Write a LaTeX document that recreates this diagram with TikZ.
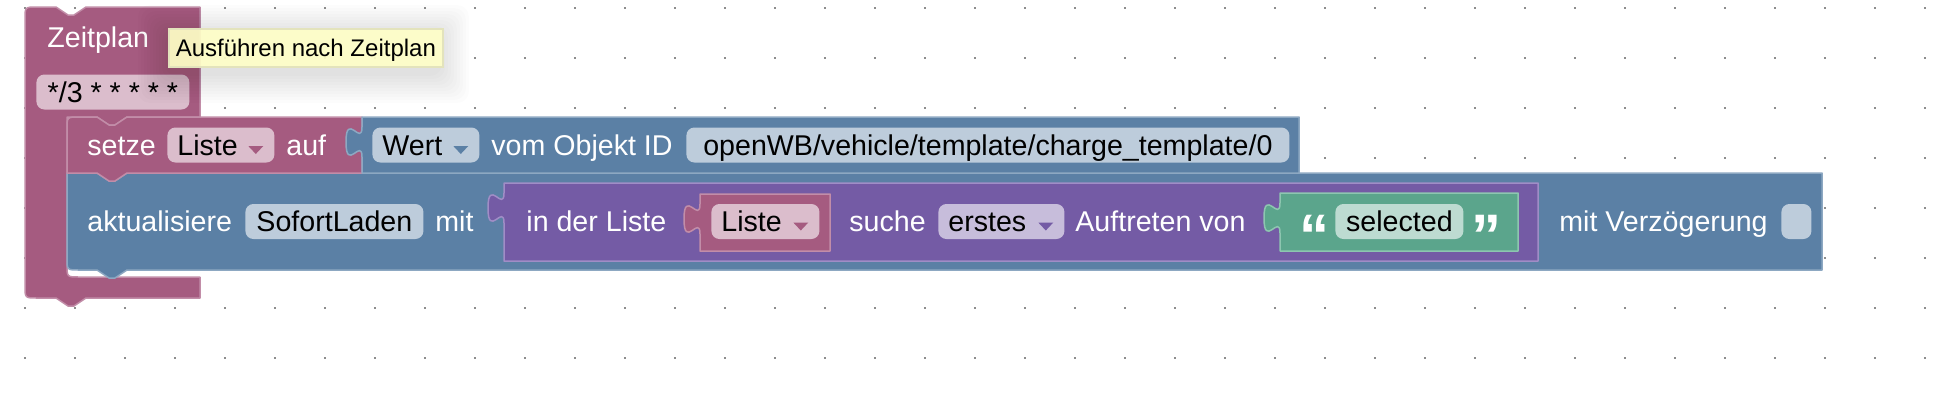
\documentclass[tikz,border=0pt]{standalone}
\usepackage{fontspec}
\setmainfont{Liberation Sans}
\usetikzlibrary{calc}

\definecolor{pinkblk}{HTML}{A55B80}
\definecolor{pinkfld}{HTML}{DBBDCC}
\definecolor{pinkedge}{HTML}{C28DA8}
\definecolor{blueblk}{HTML}{5B80A5}
\definecolor{bluefld}{HTML}{BDCCDB}
\definecolor{blueedge}{HTML}{8DA8C2}
\definecolor{purpleblk}{HTML}{745BA5}
\definecolor{purplefld}{HTML}{C7BDDB}
\definecolor{purpleedge}{HTML}{A08DC6}
\definecolor{greenblk}{HTML}{5BA58C}
\definecolor{greenfld}{HTML}{BDDBD1}
\definecolor{greenedge}{HTML}{8DC6B0}
\definecolor{tipfill}{HTML}{FFFFC7}
\definecolor{tipedge}{HTML}{E3E3BC}
\definecolor{dotgray}{HTML}{8C8C8C}

\newcommand{\blkfont}{\fontsize{14.3}{17}\selectfont}
% 下拉箭头
\newcommand{\ddarrow}[2]{\fill[#2] ($(#1.east)+(-26.5,1)$) -- ++(15,0) -- ++(-7.5,8) -- cycle;}
% 带拼图接口的值块
\newcommand{\valblock}[5]{%
  \draw[#1] (#2,#3) -- (#4,#3) -- (#4,#5) -- (#2,#5) -- (#2,{#3+40})
    .. controls (#2,{#3+20}) and ({#2-16},{#3+56}) .. ({#2-16},{#3+25})
    .. controls ({#2-16},{#3-6}) and (#2,{#3+30}) .. (#2,{#3+10}) -- cycle;}

\begin{document}
\begin{tikzpicture}[x=0.5pt, y=-0.5pt,
    blk/.style 2 args={fill=#1, draw=#2, line width=0.75pt, line join=round},
    lbl/.style={anchor=west, inner sep=0pt, text height=10pt, text depth=0pt, text=white, font=\blkfont},
    fld/.style={anchor=west, rounded corners=4pt, minimum height=17.5pt, inner xsep=5pt, inner ysep=0pt,
                text height=10pt, text depth=0pt, text=black, font=\blkfont},
    qmark/.style={anchor=base west, inner sep=0pt, text=white, font=\fontsize{30}{30}\selectfont\bfseries}]
    \useasboundingbox (0,0) rectangle (1940,408);

    % 画背景网格点
    \foreach \i in {0,...,38} {
        \foreach \j in {0,...,7} {
            \fill[dotgray] ({24+50*\i},{7+50*\j}) rectangle +(2,2);
        }
    }

    % 外层 Zeitplan 块
    \draw[blk={pinkblk}{pinkedge}] (25,19) .. controls (25,7) .. (37,7) -- (56,7) -- (68,15) -- (74,15) -- (86,7)
        -- (200,7) -- (200,117) -- (127,117) -- (115,125) -- (109,125) -- (97,117) -- (67,117)
        -- (67,265) .. controls (67,277) .. (79,277) -- (200,277) -- (200,298)
        -- (86,298) -- (74,306) -- (68,306) -- (56,298) -- (37,298) .. controls (25,298) .. (25,286) -- cycle;

    % aktualisiere 块
    \draw[blk={blueblk}{blueedge}] (67,173) -- (97,173) -- (109,181) -- (115,181) -- (127,173) -- (1822,173)
        -- (1822,270) -- (127,270) -- (115,278) -- (109,278) -- (97,270) -- (79,270)
        .. controls (67,270) .. (67,258) -- cycle;

    % setze 块
    \draw[blk={pinkblk}{pinkedge}] (67,129) .. controls (67,117) .. (79,117) -- (97,117) -- (109,125) -- (115,125)
        -- (127,117) -- (362,117) -- (362,173) -- (127,173) -- (115,181) -- (109,181) -- (97,173) -- (67,173) -- cycle;

    % 值块
    \valblock{blk={blueblk}{blueedge}}{362}{117}{1299}{173}
    \valblock{blk={purpleblk}{purpleedge}}{504}{183}{1538}{261}
    \valblock{blk={pinkblk}{pinkedge}}{700}{194}{830}{251}
    \valblock{blk={greenblk}{greenedge}}{1280}{193}{1518}{251}

    % 第一行文字
    \node[lbl] (zeitplan) at (47,37) {Zeitplan};
    \node[fld, fill=pinkfld, minimum width=76.5pt] (cron) at (36,92) {*/3 * * * * *};

    \node[lbl] (setze) at (87,145) {setze};
    \node[fld, fill=pinkfld, text width=43.5pt, align=left] (liste) at (167,145) {Liste};
    \ddarrow{liste}{pinkblk}
    \node[lbl] (auf) at (286,145) {auf};
    \node[fld, fill=bluefld, text width=43.5pt, align=left] (wert) at (372,145) {Wert};
    \ddarrow{wert}{blueblk}
    \node[lbl] (vomobj) at (491,145) {vom Objekt ID};
    \node[fld, fill=bluefld, minimum width=301.5pt] (objid) at (686,145) {openWB/vehicle/template/charge\_template/0};

    % 第二行文字
    \node[lbl] (aktual) at (87,221.5) {aktualisiere};
    \node[fld, fill=bluefld, minimum width=89pt] (sofort) at (245,221.5) {SofortLaden};
    \node[lbl] (mit) at (435,221.5) {mit};
    \node[lbl] (inliste) at (526,221.5) {in der Liste};
    \node[fld, fill=pinkfld, text width=44pt, align=left] (liste2) at (711,221.5) {Liste};
    \ddarrow{liste2}{pinkblk}
    \node[lbl] (suche) at (849,221.5) {suche};
    \node[fld, fill=purplefld, text width=53pt, align=left] (erstes) at (938,221.5) {erstes};
    \ddarrow{erstes}{purpleblk}
    \node[lbl] (auftreten) at (1075,221.5) {Auftreten von};
    \node[qmark] (qopen) at (1299,256) {“};
    \node[fld, fill=greenfld, minimum width=64pt] (selected) at (1335,221.5) {selected};
    \node[qmark] (qclose) at (1471,256) {”};
    \node[lbl] (verz) at (1559,221.5) {mit Verzögerung};
    \node[fld, fill=bluefld, minimum width=15pt, inner xsep=0pt] (delay) at (1781,221.5) {};

    % 提示框及阴影
    \foreach \s in {3,6,...,30} {
        \fill[black, opacity=0.01, rounded corners=6pt] ({168-\s},{35-\s}) rectangle ({439+\s},{73+\s});
    }
    \node[anchor=west, fill=tipfill, draw=tipedge, line width=0.75pt, fill opacity=0.92, text opacity=1,
          minimum height=19pt, inner xsep=3.5pt, inner ysep=0pt, text height=8.6pt, text depth=0pt,
          font=\fontsize{12}{14}\selectfont] (tip) at (168,48) {Ausführen nach Zeitplan};
\end{tikzpicture}
\end{document}
